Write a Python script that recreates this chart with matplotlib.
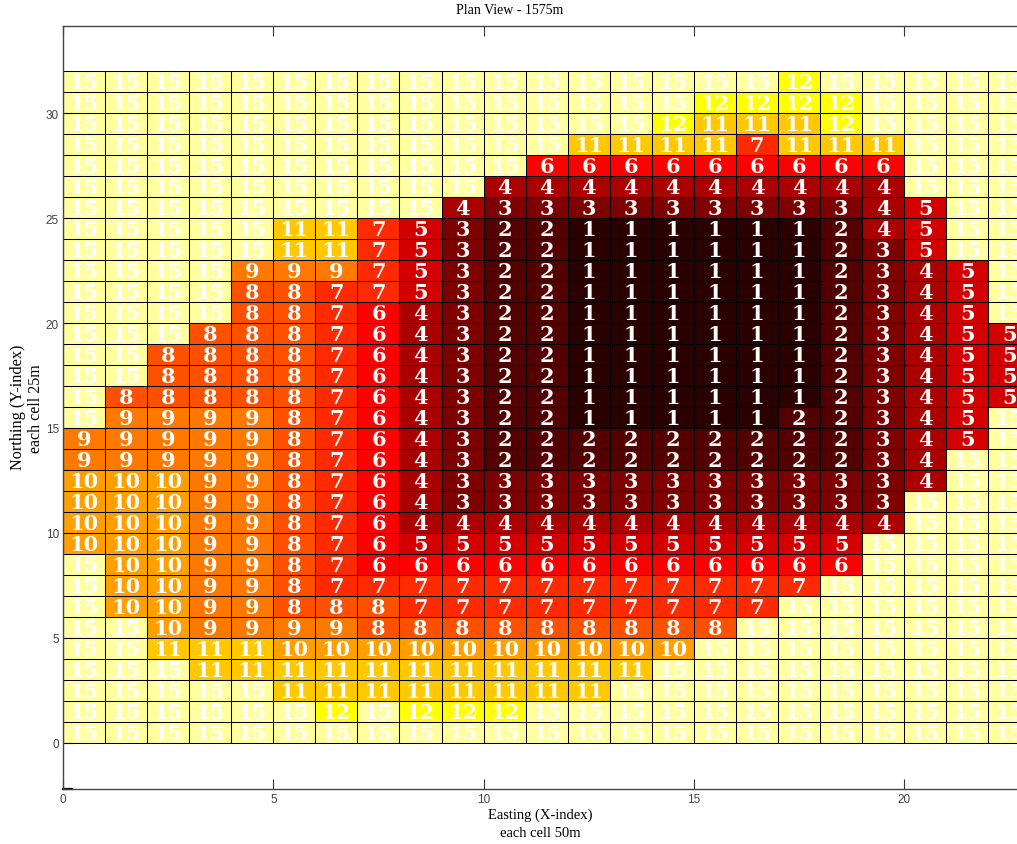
import numpy as np
import matplotlib
matplotlib.use('Agg')
import matplotlib.pyplot as plt
from matplotlib.colors import ListedColormap

# cell values, first row is the top of the picture (y = 31), last row is y = 0
cell_rows = [
    [15,15,15,15,15,15,15,15,15,15,15,15,15,15,15,15,15,12,15,15,15,15,15],
    [15,15,15,15,15,15,15,15,15,15,15,15,15,15,15,12,12,12,12,15,15,15,15],
    [15,15,15,15,15,15,15,15,15,15,15,15,15,15,12,11,11,11,12,15,15,15,15],
    [15,15,15,15,15,15,15,15,15,15,15,15,11,11,11,11,7,11,11,11,15,15,15],
    [15,15,15,15,15,15,15,15,15,15,15,6,6,6,6,6,6,6,6,6,15,15,15],
    [15,15,15,15,15,15,15,15,15,15,4,4,4,4,4,4,4,4,4,4,15,15,15],
    [15,15,15,15,15,15,15,15,15,4,3,3,3,3,3,3,3,3,3,4,5,15,15],
    [15,15,15,15,15,11,11,7,5,3,2,2,1,1,1,1,1,1,2,4,5,15,15],
    [15,15,15,15,15,11,11,7,5,3,2,2,1,1,1,1,1,1,2,3,5,15,15],
    [15,15,15,15,9,9,9,7,5,3,2,2,1,1,1,1,1,1,2,3,4,5,15],
    [15,15,15,15,8,8,7,7,5,3,2,2,1,1,1,1,1,1,2,3,4,5,15],
    [15,15,15,15,8,8,7,6,4,3,2,2,1,1,1,1,1,1,2,3,4,5,15],
    [15,15,15,8,8,8,7,6,4,3,2,2,1,1,1,1,1,1,2,3,4,5,5],
    [15,15,8,8,8,8,7,6,4,3,2,2,1,1,1,1,1,1,2,3,4,5,5],
    [15,15,8,8,8,8,7,6,4,3,2,2,1,1,1,1,1,1,2,3,4,5,5],
    [15,8,8,8,8,8,7,6,4,3,2,2,1,1,1,1,1,1,2,3,4,5,5],
    [15,9,9,9,9,8,7,6,4,3,2,2,1,1,1,1,1,2,2,3,4,5,15],
    [9,9,9,9,9,8,7,6,4,3,2,2,2,2,2,2,2,2,2,3,4,5,15],
    [9,9,9,9,9,8,7,6,4,3,2,2,2,2,2,2,2,2,2,3,4,15,15],
    [10,10,10,9,9,8,7,6,4,3,3,3,3,3,3,3,3,3,3,3,4,15,15],
    [10,10,10,9,9,8,7,6,4,3,3,3,3,3,3,3,3,3,3,3,15,15,15],
    [10,10,10,9,9,8,7,6,4,4,4,4,4,4,4,4,4,4,4,4,15,15,15],
    [10,10,10,9,9,8,7,6,5,5,5,5,5,5,5,5,5,5,5,15,15,15,15],
    [15,10,10,9,9,8,7,6,6,6,6,6,6,6,6,6,6,6,6,15,15,15,15],
    [15,10,10,9,9,8,7,7,7,7,7,7,7,7,7,7,7,7,15,15,15,15,15],
    [15,10,10,9,9,8,8,8,7,7,7,7,7,7,7,7,7,15,15,15,15,15,15],
    [15,15,10,9,9,9,9,8,8,8,8,8,8,8,8,8,15,15,15,15,15,15,15],
    [15,15,11,11,11,10,10,10,10,10,10,10,10,10,10,15,15,15,15,15,15,15,15],
    [15,15,15,11,11,11,11,11,11,11,11,11,11,11,15,15,15,15,15,15,15,15,15],
    [15,15,15,15,15,11,11,11,11,11,11,11,11,15,15,15,15,15,15,15,15,15,15],
    [15,15,15,15,15,15,12,15,12,12,12,15,15,15,15,15,15,15,15,15,15,15,15],
    [15,15,15,15,15,15,15,15,15,15,15,15,15,15,15,15,15,15,15,15,15,15,15],
]

# colour of each value 1..15
cell_colors = ['#2a0000', '#550000', '#7f0000', '#aa0000', '#d40000',
               '#ff0000', '#ff2a00', '#ff5000', '#ff7800', '#ffa000',
               '#ffc800', '#ffff00', '#ffff40', '#ffff80', '#ffffa0']

x_ticks = [0, 5, 10, 15, 20]
y_ticks = [0, 5, 10, 15, 20, 25, 30]

W, H = 1017, 845
fig = plt.figure(figsize=(W / 100, H / 100), dpi=100)

# axes run past the right edge of the image, as in the reference
ax = fig.add_axes([63 / W, 1 - 790 / H, 23 * 42.06 / W, 763 / H])

values = np.array(cell_rows)[::-1]
xe = np.arange(values.shape[1] + 1)
ye = np.arange(values.shape[0] + 1)
ax.pcolormesh(xe, ye, values, cmap=ListedColormap(cell_colors), vmin=0.5, vmax=15.5)

# cell borders, thin lines drawn on their own
ax.hlines(ye, xe[0], xe[-1], color='black', lw=0.75)
ax.vlines(xe, ye[0], ye[-1], color='black', lw=0.75)

# number in every cell
for r in range(values.shape[0]):
    for c in range(values.shape[1]):
        ax.text(c + 0.5, r + 0.47, str(values[r, c]), color='white', ha='center', va='center',
                family='DejaVu Serif', fontweight='bold', fontsize=15, clip_on=True)

ax.set_xlim(0, 23)
ax.set_ylim(-2.2, 34.15)
ax.set_xticks(x_ticks)
ax.set_yticks(y_ticks)
ax.tick_params(direction='in', length=7, width=0.8, color='#333333', labelcolor='#444444',
               top=True, right=False, pad=3)
for lab in ax.get_xticklabels() + ax.get_yticklabels():
    lab.set_family('Liberation Sans')
    lab.set_fontsize(8.5)
for sp in ax.spines.values():
    sp.set_color('#444444')
    sp.set_linewidth(1.0)

# small dark dash in the bottom left corner
ax.plot([0, 0.22], [-2.2, -2.2], color='black', lw=1.6, clip_on=False)

# titles and labels
serif = 'Liberation Serif'
fig.text(510 / W, 1 - 10 / H, 'Plan View - 1575m', family=serif, fontsize=10, ha='center', va='center')
fig.text(540 / W, 1 - 815 / H, 'Easting (X-index)', family=serif, fontsize=10.5, ha='center', va='center')
fig.text(540 / W, 1 - 834 / H, 'each cell 50m', family=serif, fontsize=10.5, ha='center', va='center')
fig.text(18 / W, 1 - 407 / H, 'Northing (Y-index)', family=serif, fontsize=11.7, rotation=90, ha='center', va='center')
fig.text(36 / W, 1 - 409 / H, 'each cell 25m', family=serif, fontsize=11.5, rotation=90, ha='center', va='center')

fig.savefig('out.png', dpi=100)
